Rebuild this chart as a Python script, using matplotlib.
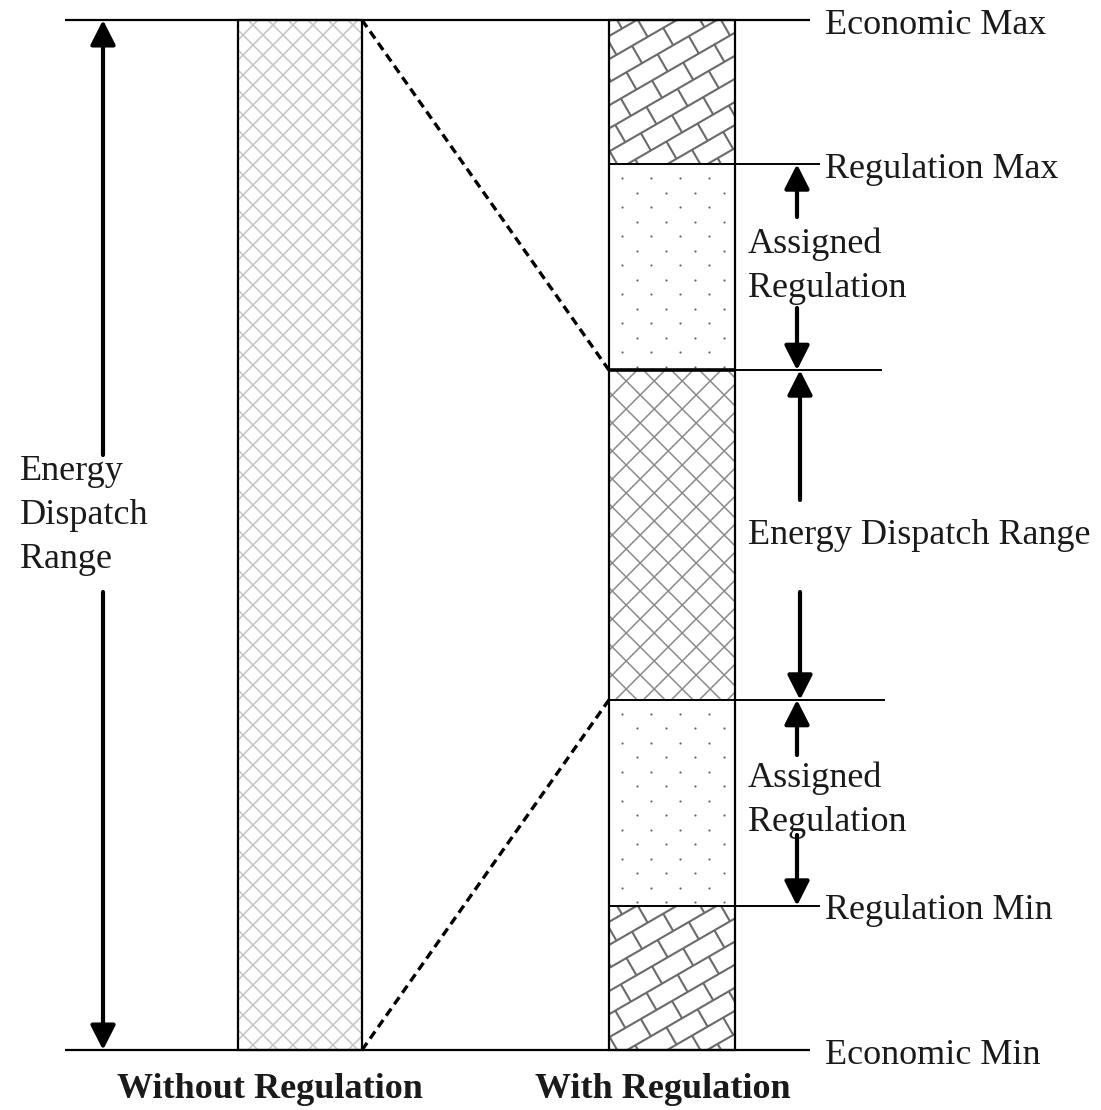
import matplotlib
matplotlib.use("Agg")
import matplotlib.pyplot as plt
from matplotlib.patches import Rectangle
from matplotlib.collections import LineCollection
import numpy as np

# operating levels, % of the economic range (Economic Min = 0, Economic Max = 100)
econ_min, reg_min, disp_lo, disp_hi, reg_max, econ_max = 0, 14, 34, 66, 86, 100
right_labels = ["Economic Max", "Regulation Max", "Regulation Min", "Economic Min"]
right_label_levels = [econ_max, reg_max, reg_min, econ_min]
bar_labels = ["Without Regulation", "With Regulation"]
# stacked segments of the "with regulation" bar
seg_bottoms = [econ_min, reg_min, disp_lo, disp_hi, reg_max]
seg_tops = [reg_min, disp_lo, disp_hi, reg_max, econ_max]
seg_fills = ["brick", "dots", "cross", "dots", "brick"]

W, H = 1101, 1110
PX = 10.3          # pixels per level unit
Y0 = 1050          # pixel row of level 0
FONT = "Liberation Serif"
FS = 26

fig = plt.figure(figsize=(W / 100, H / 100), dpi=100)
ax = fig.add_axes([0, 0, 1, 1])
ax.set_xlim(0, W)
ax.set_ylim(-(H - Y0) / PX, Y0 / PX)
ax.axis("off")


def clipped(segs, x0, x1, v0, v1, color, lw):
    rect = Rectangle((x0, v0), x1 - x0, v1 - v0, fc="none", ec="none")
    ax.add_patch(rect)
    lc = LineCollection(segs, colors=color, linewidths=lw)
    ax.add_collection(lc)
    lc.set_clip_path(rect)   # after add_collection, else it is reset


def crosshatch(x0, x1, v0, v1, period, color, lw):
    h = (v1 - v0) * PX
    segs = []
    for c in np.arange(x0 - h - period, x1 + period, period):
        segs.append([(c, v0), (c + h, v1)])
        segs.append([(c, v1), (c + h, v0)])
    clipped(segs, x0, x1, v0, v1, color, lw)


def bricks(x0, x1, v0, v1, sp=20, ln=36, ang=30, color="#6a6a6a", lw=1.5):
    th = np.radians(ang)
    u = np.array([np.cos(th), np.sin(th)])
    n = np.array([-np.sin(th), np.cos(th)])
    o = np.array([(x0 + x1) / 2, (v0 + v1) / 2 * PX])
    d = np.hypot(x1 - x0, (v1 - v0) * PX)
    segs = []
    to_data = lambda p: (p[0], p[1] / PX)
    for k in range(-int(d / sp) - 2, int(d / sp) + 2):
        base = o + k * sp * n
        segs.append([to_data(base - d * u), to_data(base + d * u)])
        for t in np.arange(-d, d, ln) + (k % 2) * ln / 2:
            p = base + t * u
            segs.append([to_data(p), to_data(p + sp * n)])
    clipped(segs, x0, x1, v0, v1, color, lw)


def dots(x0, x1, v0, v1, dx=29, dy=14.5, color="#666666"):
    xs, vs = [], []
    py = v1 * PX - 14
    row = 0
    while py > v0 * PX + 3:
        for x in np.arange(x0 + 13 + (row % 2) * dx / 2, x1 - 3, dx):
            xs.append(x)
            vs.append(py / PX)
        py -= dy
        row += 1
    ax.scatter(xs, vs, s=2.5, color=color, linewidths=0, zorder=2)


# bar without regulation
LX0, LX1 = 238, 362
RX0, RX1 = 609, 735
crosshatch(LX0, LX1, econ_min, econ_max, 20, "#c4c4c4", 1.1)
ax.add_patch(Rectangle((LX0, econ_min), LX1 - LX0, econ_max - econ_min,
                       fc="none", ec="black", lw=1.6, zorder=3))

# bar with regulation
for b, t, f in zip(seg_bottoms, seg_tops, seg_fills):
    if f == "brick":
        bricks(RX0, RX1, b, t)
    elif f == "dots":
        dots(RX0, RX1, b, t)
    else:
        crosshatch(RX0, RX1, b, t, 28, "#8a8a8a", 1.1)
ax.add_patch(Rectangle((RX0, econ_min), RX1 - RX0, econ_max - econ_min,
                       fc="none", ec="black", lw=1.6, zorder=3))

# level lines
ax.hlines([econ_max, econ_min], 65, 810, color="black", lw=1.6, zorder=3)
ax.hlines([reg_max, reg_min], RX0, 820, color="black", lw=1.4, zorder=3)
ax.hlines([disp_hi, disp_lo], RX0, [882, 885], color="black", lw=1.4, zorder=3)
ax.hlines(disp_hi, RX0, RX1, color="black", lw=2.6, zorder=3)

# dashed mapping lines
ax.plot([LX1, RX0], [econ_max, disp_hi], color="black", lw=2.4,
        ls=(0, (2.6, 1.6)), zorder=4)
ax.plot([LX1, RX0], [econ_min, disp_lo], color="black", lw=2.4,
        ls=(0, (2.6, 1.6)), zorder=4)


def arrow(x, v_from, v_to):
    ax.annotate("", xy=(x, v_to), xytext=(x, v_from),
                arrowprops=dict(arrowstyle="-|>,head_length=0.75,head_width=0.38",
                                lw=3, color="black", shrinkA=0, shrinkB=0,
                                mutation_scale=20), zorder=5)


def gap(px_row):
    return (Y0 - px_row) / PX


# left: energy dispatch range without regulation
arrow(103, gap(455), econ_max)
arrow(103, gap(592), econ_min)
# right: assigned regulation / dispatch range
arrow(797, gap(217), reg_max)
arrow(797, gap(308), disp_hi)
arrow(800, gap(500), disp_hi)
arrow(800, gap(592), disp_lo)
arrow(797, gap(755), disp_lo)
arrow(797, gap(835), reg_min)

tkw = dict(family=FONT, fontsize=FS, color="#1a1a1a")
ax.text(20, gap(516), "Energy\nDispatch\nRange", ha="left", va="center",
        linespacing=1.44, **tkw)
ax.text(748, gap(266), "Assigned\nRegulation", ha="left", va="center",
        linespacing=1.44, **tkw)
ax.text(748, gap(800), "Assigned\nRegulation", ha="left", va="center",
        linespacing=1.44, **tkw)
ax.text(748, gap(536), "Energy Dispatch Range", ha="left", va="center", **tkw)
for lab, lv in zip(right_labels, right_label_levels):
    ax.text(825, lv - 0.5, lab, ha="left", va="center", **tkw)

for lab, xc in zip(bar_labels, [270, 663]):
    ax.text(xc, gap(1090), lab, ha="center", va="center", family=FONT,
            fontsize=FS, fontweight="bold", color="#1a1a1a")

fig.savefig("out.png", dpi=100, facecolor="white")
